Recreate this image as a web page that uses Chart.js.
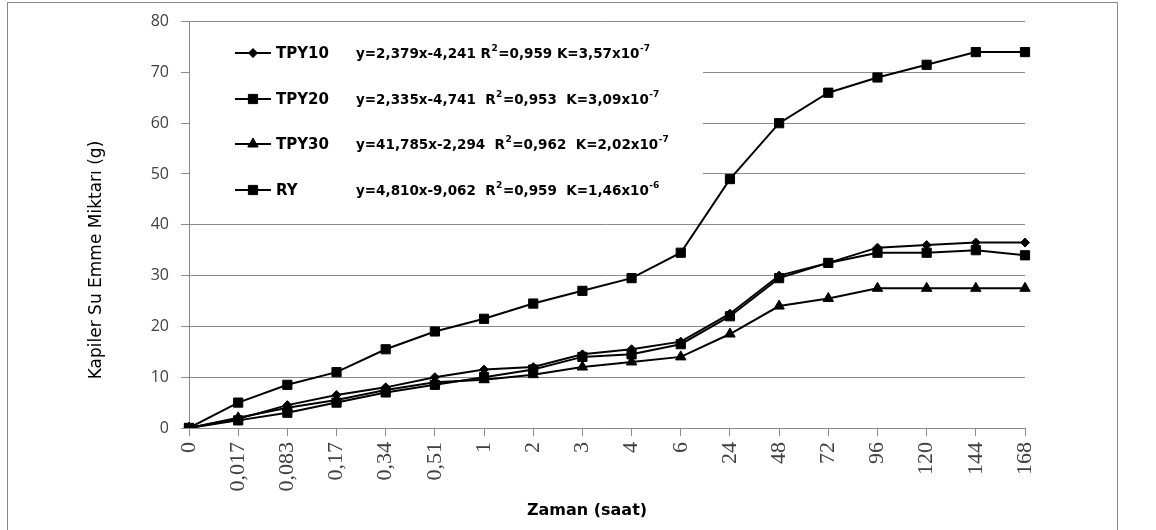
<!DOCTYPE html>
<html>
<head>
<meta charset="utf-8">
<script src="https://cdn.jsdelivr.net/npm/chart.js@4.4.1/dist/chart.umd.min.js"></script>
<style>
  html, body { margin: 0; padding: 0; background: #ffffff; }
  #wrap { position: absolute; left: 0; top: 0; width: 1156px; height: 530px; }
</style>
</head>
<body>
<div id="wrap"><canvas id="c" width="1156" height="530"></canvas></div>
<script>
// ---- data ----
const categories = ['0','0,017','0,083','0,17','0,34','0,51','1','2','3','4','6','24','48','72','96','120','144','168'];
const seriesNames = ['TPY10','TPY20','TPY30','RY'];
const tpy10 = [0, 1.8, 4.5, 6.5, 8, 10, 11.5, 12, 14.5, 15.5, 17, 22.5, 30, 32.5, 35.5, 36, 36.5, 36.5];
const tpy20 = [0, 1.5, 3, 5, 7, 8.5, 10, 11.5, 14, 14.5, 16.5, 22, 29.5, 32.5, 34.5, 34.5, 35, 34];
const tpy30 = [0, 2, 4, 5.5, 7.5, 9, 9.5, 10.5, 12, 13, 14, 18.5, 24, 25.5, 27.5, 27.5, 27.5, 27.5];
const ry    = [0, 5, 8.5, 11, 15.5, 19, 21.5, 24.5, 27, 29.5, 34.5, 49, 60, 66, 69, 71.5, 74, 74];
const yTicks = [0, 10, 20, 30, 40, 50, 60, 70, 80];
// equation texts: [main, superscript, main, superscript]
const equations = [
  ['y=2,379x-4,241 R', '2', '=0,959 K=3,57x10', '-7'],
  ['y=2,335x-4,741  R', '2', '=0,953  K=3,09x10', '-7'],
  ['y=41,785x-2,294  R', '2', '=0,962  K=2,02x10', '-7'],
  ['y=4,810x-9,062  R', '2', '=0,959  K=1,46x10', '-6']
];
const xTitle = 'Zaman (saat)';
const yTitle = 'Kapiler Su Emme Miktarı (g)';

const styles = [
  { pointStyle: 'rectRot', radius: 4.5 },
  { pointStyle: 'rect', radius: 6.5 },
  { pointStyle: 'triangle', radius: 6 },
  { pointStyle: 'rect', radius: 6.5 }
];
const seriesData = [tpy10, tpy20, tpy30, ry];

function drawMarker(ctx, style, r, x, y) {
  if (Chart.helpers && Chart.helpers.drawPoint) {
    ctx.fillStyle = '#000'; ctx.strokeStyle = '#000'; ctx.lineWidth = 1;
    Chart.helpers.drawPoint(ctx, { pointStyle: style, radius: r, rotation: 0, borderWidth: 1 }, x, y);
    return;
  }
  ctx.beginPath();
  if (style === 'rect') { const s = r * Math.SQRT1_2; ctx.rect(x - s, y - s, 2 * s, 2 * s); }
  else if (style === 'rectRot') { ctx.moveTo(x, y - r); ctx.lineTo(x + r, y); ctx.lineTo(x, y + r); ctx.lineTo(x - r, y); ctx.closePath(); }
  else { ctx.moveTo(x, y - r); ctx.lineTo(x + r * 0.866, y + r * 0.5); ctx.lineTo(x - r * 0.866, y + r * 0.5); ctx.closePath(); }
  ctx.fillStyle = '#000'; ctx.fill();
}

const decorPlugin = {
  id: 'decor',
  beforeDraw(chart) {
    const ctx = chart.ctx;
    ctx.save();
    ctx.fillStyle = '#fff';
    ctx.fillRect(0, 0, chart.width, chart.height);
    ctx.strokeStyle = '#8a8a8a';
    ctx.lineWidth = 1;
    ctx.strokeRect(7.5, 2.5, 1110, 540);
    ctx.restore();
  },
  beforeDatasetsDraw(chart) {
    const ctx = chart.ctx;
    ctx.save();
    // legend box (white, covers gridlines)
    ctx.fillStyle = '#fff';
    ctx.fillRect(190, 24, 513, 186);
    const rowY = [53, 99, 144, 190];
    for (let i = 0; i < seriesNames.length; i++) {
      const y = rowY[i];
      ctx.strokeStyle = '#000';
      ctx.lineWidth = 2;
      ctx.beginPath(); ctx.moveTo(235, y); ctx.lineTo(271, y); ctx.stroke();
      drawMarker(ctx, styles[i].pointStyle, styles[i].radius, 253, y);
      ctx.fillStyle = '#000';
      ctx.textBaseline = 'middle';
      ctx.textAlign = 'left';
      ctx.font = 'bold 15px "DejaVu Sans"';
      ctx.fillText(seriesNames[i], 276, y + 1);
      let x = 356;
      const parts = equations[i];
      for (let p = 0; p < parts.length; p++) {
        if (p % 2 === 0) {
          ctx.font = 'bold 13.5px "DejaVu Sans"';
          ctx.fillText(parts[p], x, y + 1);
        } else {
          ctx.font = 'bold 9px "DejaVu Sans"';
          ctx.fillText(parts[p], x + 0.5, y - 4);
        }
        x += ctx.measureText(parts[p]).width + (p % 2 === 1 ? 1 : 0);
      }
    }
    ctx.restore();
  },
  afterDraw(chart) {
    const ctx = chart.ctx;
    ctx.save();
    ctx.fillStyle = '#000';
    ctx.textAlign = 'center';
    ctx.textBaseline = 'middle';
    ctx.font = 'bold 16px "DejaVu Sans"';
    ctx.fillText(xTitle, 587, 511);
    ctx.translate(97, 260);
    ctx.rotate(-Math.PI / 2);
    ctx.font = '17px "DejaVu Sans"';
    ctx.fillText(yTitle, 0, 0);
    ctx.restore();
  }
};

const datasets = seriesNames.map((name, i) => ({
  label: name,
  data: seriesData[i],
  borderColor: '#000',
  backgroundColor: '#000',
  borderWidth: 2,
  pointStyle: styles[i].pointStyle,
  pointRadius: styles[i].radius,
  pointBackgroundColor: '#000',
  pointBorderColor: '#000',
  pointBorderWidth: 1,
  tension: 0,
  fill: false
}));

new Chart(document.getElementById('c'), {
  type: 'line',
  data: { labels: categories, datasets },
  options: {
    responsive: false,
    animation: false,
    events: [],
    layout: { padding: { left: 0, top: 16, right: 131, bottom: 0 } },
    plugins: { legend: { display: false }, tooltip: { enabled: false } },
    scales: {
      x: {
        offset: false,
        grid: { drawOnChartArea: false, drawTicks: true, tickLength: 8, color: '#8a8a8a' },
        border: { color: '#8a8a8a', width: 1 },
        ticks: {
          autoSkip: false, minRotation: 90, maxRotation: 90, padding: 6,
          color: '#404040', font: { family: '"Liberation Serif"', size: 22 }
        },
        afterFit(s) { s.height = 102; }
      },
      y: {
        min: 0, max: 80,
        afterBuildTicks(s) { s.ticks = yTicks.map(v => ({ value: v })); },
        grid: { color: '#8a8a8a', tickLength: 8 },
        border: { color: '#8a8a8a', width: 1 },
        ticks: { padding: 12, color: '#404040', font: { family: '"Open Sans"', size: 16 } },
        afterFit(s) { s.width = 189; }
      }
    }
  },
  plugins: [decorPlugin]
});
</script>
</body>
</html>
